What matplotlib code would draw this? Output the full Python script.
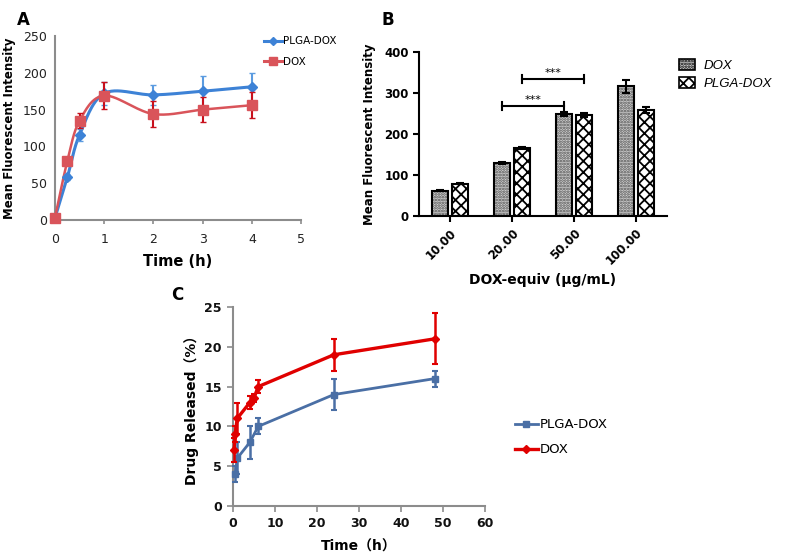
import numpy as np
import matplotlib
matplotlib.use('Agg')
import matplotlib.pyplot as plt
from matplotlib.lines import Line2D
from matplotlib.patches import Patch

# ---- panel A data ----
a_time = [0, 0.25, 0.5, 1, 2, 3, 4]
a_plga = [3, 58, 116, 172, 170, 175, 181]
a_plga_err = [0, 4, 8, 16, 14, 20, 19]
a_dox = [3, 80, 135, 169, 144, 150, 156]
a_dox_err = [0, 4, 10, 18, 18, 17, 18]

# ---- panel B data ----
b_labels = ['10.00', '20.00', '50.00', '100.00']
b_dox = [62, 129, 248, 316]
b_dox_err = [2, 2, 5, 15]
b_plga = [79, 166, 247, 258]
b_plga_err = [2, 2, 5, 8]

# ---- panel C data ----
c_plga_t = [0.5, 1, 4, 6, 24, 48]
c_plga = [4, 6, 8, 10, 14, 16]
c_plga_err = [1, 2, 2.1, 1, 2, 1]
c_dox_t = [0.25, 0.5, 1, 4, 5, 6, 24, 48]
c_dox = [7, 9, 11, 13, 13.6, 15, 19, 21]
c_dox_err = [1.5, 1, 2, 0.8, 0.5, 0.8, 2, 3.2]


def smooth(x, y, n=30):
    # catmull-rom style smoothing like excel's "smoothed line"
    x = np.asarray(x, float)
    y = np.asarray(y, float)
    px = np.concatenate([[x[0]], x, [x[-1]]])
    py = np.concatenate([[y[0]], y, [y[-1]]])
    xs, ys = [], []
    t = np.linspace(0, 1, n)
    for i in range(1, len(px) - 2):
        p0, p1, p2, p3 = [np.array([px[j], py[j]]) for j in (i - 1, i, i + 1, i + 2)]
        b1 = p1 + (p2 - p0) / 6
        b2 = p2 - (p3 - p1) / 6
        pts = ((1 - t) ** 3)[:, None] * p1 + (3 * (1 - t) ** 2 * t)[:, None] * b1 \
            + (3 * (1 - t) * t ** 2)[:, None] * b2 + (t ** 3)[:, None] * p2
        xs.extend(pts[:, 0])
        ys.extend(pts[:, 1])
    return xs, ys


fig = plt.figure(figsize=(7.87, 5.59), dpi=100)
fig.patch.set_facecolor('white')
grey = '#8c8c8c'

# ================= A =================
ax = fig.add_axes([0.0699, 0.6064, 0.3126, 0.3292])
blue_a = '#3d82d6'
red_a = '#d9545a'
sx, sy = smooth(a_time, a_plga)
ax.plot(sx, sy, color=blue_a, lw=2.2, zorder=3)
ax.errorbar(a_time, a_plga, yerr=a_plga_err, fmt='D', color=blue_a, ms=5,
            ecolor='#5b9be0', elinewidth=1.5, capsize=2.5, zorder=4, clip_on=False)
sx, sy = smooth(a_time, a_dox)
ax.plot(sx, sy, color=red_a, lw=1.8, zorder=3)
ax.errorbar(a_time, a_dox, yerr=a_dox_err, fmt='s', color=red_a, ms=6.5,
            ecolor='#c8101c', elinewidth=1.5, capsize=2.5, zorder=5, clip_on=False)
ax.set_xlim(0, 5)
ax.set_ylim(0, 250)
ax.set_xticks(range(6))
ax.set_yticks(range(0, 251, 50))
for s in ['top', 'right']:
    ax.spines[s].set_visible(False)
for s in ['left', 'bottom']:
    ax.spines[s].set_color(grey)
    ax.spines[s].set_linewidth(1.5)
ax.tick_params(axis='x', colors=grey, length=3, width=1.2, labelsize=9, labelcolor='#222222', pad=6)
ax.tick_params(axis='y', colors=grey, length=0, labelsize=9, labelcolor='#222222', pad=6)
ax.set_xlabel('Time (h)', fontsize=10.5, fontweight='bold', labelpad=6)
ax.set_ylabel('Mean Fluorescent Intensity', fontsize=8.5, fontweight='bold', labelpad=5)
handles = [Line2D([0], [0], color=blue_a, lw=2.2, marker='D', ms=4),
           Line2D([0], [0], color=red_a, lw=2.2, marker='s', ms=6)]
ax.legend(handles, ['PLGA-DOX', 'DOX'], loc='upper left', bbox_to_anchor=(0.81, 1.05),
          frameon=False, fontsize=7.5, handlelength=1.8, handletextpad=0.1, labelspacing=1.0)
fig.text(0.021, 0.965, 'A', fontsize=12, fontweight='bold', va='center')

# ================= B =================
ax = fig.add_axes([0.5324, 0.6136, 0.3151, 0.2934])
pos = np.arange(len(b_labels)) + 0.5
w = 0.27
dox_fill = '#d2d2d2'
dox_dots = '#505050'
plt.rcParams['hatch.linewidth'] = 1.3
# fill with grey stipple, then black outline on top
ax.bar(pos - 0.16, b_dox, w, color=dox_fill, edgecolor=dox_dots, lw=0,
       hatch='......', zorder=2)
ax.bar(pos - 0.16, b_dox, w, yerr=b_dox_err, fill=False, edgecolor='black', lw=1.5,
       error_kw=dict(elinewidth=1.5, capsize=3, capthick=1.5), zorder=3)
ax.bar(pos + 0.16, b_plga, w, color='white', edgecolor='black', lw=0,
       hatch='xxx', zorder=2)
ax.bar(pos + 0.16, b_plga, w, yerr=b_plga_err, fill=False, edgecolor='black', lw=1.5,
       error_kw=dict(elinewidth=1.5, capsize=3, capthick=1.5), zorder=3)
ax.set_xlim(0, 4)
ax.set_ylim(0, 400)
ax.set_yticks(range(0, 401, 100))
ax.set_xticks(pos)
ax.set_xticklabels(b_labels, rotation=45, ha='right', rotation_mode='anchor', fontweight='bold')
for s in ['top', 'right']:
    ax.spines[s].set_visible(False)
for s in ['left', 'bottom']:
    ax.spines[s].set_linewidth(1.5)
ax.tick_params(length=4, width=1.5, labelsize=8.5)
for lab in ax.get_yticklabels():
    lab.set_fontweight('bold')
ax.set_xlabel('DOX-equiv (μg/mL)', fontsize=10, fontweight='bold', labelpad=4)
ax.set_ylabel('Mean Fluorescent Intensity', fontsize=8.5, fontweight='bold', labelpad=6)
# significance brackets
for x1, x2, yv in [(pos[1] - 0.16, pos[2] - 0.16, 268), (pos[1] + 0.16, pos[2] + 0.16, 334)]:
    ax.plot([x1, x2], [yv, yv], color='black', lw=1.5)
    ax.plot([x1, x1], [yv - 10, yv + 10], color='black', lw=1.5)
    ax.plot([x2, x2], [yv - 10, yv + 10], color='black', lw=1.5)
    ax.text((x1 + x2) / 2, yv + 3, '***', ha='center', va='bottom', fontsize=8)
handles = [Patch(facecolor=dox_fill, edgecolor='black', hatch='......', lw=1.2),
           Patch(facecolor='white', edgecolor='black', hatch='xxx', lw=1.2)]
leg = ax.legend(handles, ['DOX', 'PLGA-DOX'], loc='upper left', bbox_to_anchor=(1.0, 1.03),
                frameon=False, fontsize=9.5, handlelength=1.2, handleheight=0.9,
                handletextpad=0.7, labelspacing=0.4)
for t in leg.get_texts():
    t.set_fontstyle('italic')
    t.set_family('Liberation Sans')
fig.text(0.485, 0.965, 'B', fontsize=12, fontweight='bold', va='center')

# ================= C =================
ax = fig.add_axes([0.2961, 0.0948, 0.3202, 0.356])
blue_c = '#4a6fa5'
red_c = '#e00000'
ax.errorbar(c_plga_t, c_plga, yerr=c_plga_err, fmt='-s', color=blue_c, ms=4, lw=2,
            elinewidth=1.8, capsize=2.5, capthick=1.5, clip_on=False, zorder=3)
ax.errorbar(c_dox_t, c_dox, yerr=c_dox_err, fmt='-D', color=red_c, ms=4.5, lw=2.4,
            elinewidth=1.8, capsize=2.5, capthick=1.5, clip_on=False, zorder=4)
ax.set_xlim(0, 60)
ax.set_ylim(0, 25)
ax.set_xticks(range(0, 61, 10))
ax.set_yticks(range(0, 26, 5))
for s in ['top', 'right']:
    ax.spines[s].set_visible(False)
for s in ['left', 'bottom']:
    ax.spines[s].set_color(grey)
    ax.spines[s].set_linewidth(1.5)
ax.tick_params(axis='x', colors=grey, length=4, width=1.2, labelsize=9, labelcolor='#111111', pad=4)
ax.tick_params(axis='y', colors=grey, length=4, width=1.2, labelsize=9, labelcolor='#111111', pad=4)
for lab in ax.get_xticklabels() + ax.get_yticklabels():
    lab.set_fontweight('bold')
cjk = ['DejaVu Sans', 'Noto Sans CJK SC']
ax.set_xlabel('Time（h）', fontsize=10, fontweight='bold', family=cjk, labelpad=7)
ax.set_ylabel('Drug Released（%）', fontsize=10, fontweight='bold', family=cjk, labelpad=4)
handles = [Line2D([0], [0], color=blue_c, lw=2, marker='s', ms=4),
           Line2D([0], [0], color=red_c, lw=2.4, marker='D', ms=4.5)]
ax.legend(handles, ['PLGA-DOX', 'DOX'], loc='upper left', bbox_to_anchor=(1.07, 0.5),
          frameon=False, fontsize=9.5, handlelength=1.8, handletextpad=0.1, labelspacing=0.9)
fig.text(0.218, 0.472, 'C', fontsize=12, fontweight='bold', va='center')

fig.savefig('out.png', dpi=100)
